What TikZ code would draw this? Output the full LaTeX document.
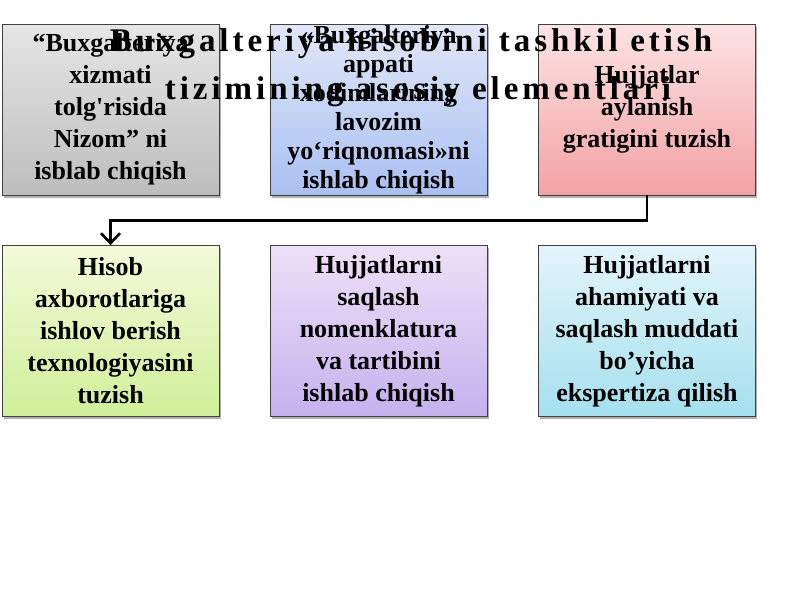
\documentclass[tikz,border=0pt]{standalone}
\usepackage{fontspec}
\setmainfont{Liberation Serif}
\usetikzlibrary{arrows.meta,shadows}

\definecolor{greytop}{HTML}{E6E6E6}
\definecolor{greybot}{HTML}{BDBDBD}
\definecolor{bluetop}{HTML}{E0E7F7}
\definecolor{bluebot}{HTML}{AAC0F2}
\definecolor{pinktop}{HTML}{FDE3E3}
\definecolor{pinkbot}{HTML}{F3A2A4}
\definecolor{greentop}{HTML}{F3FAD9}
\definecolor{greenbot}{HTML}{D0EF9A}
\definecolor{lilactop}{HTML}{EEE0F7}
\definecolor{lilacbot}{HTML}{C5B1EE}
\definecolor{cyantop}{HTML}{E3F4FA}
\definecolor{cyanbot}{HTML}{A4E0EE}

\tikzset{
  elem/.style={draw=black!75, line width=0.8pt, minimum width=217pt, minimum height=171pt,
    inner sep=2pt, align=center, font=\fontsize{26}{32}\selectfont\bfseries,
    drop shadow={shadow xshift=1.5pt, shadow yshift=-2.5pt, opacity=0.3, fill=black}},
  conn/.style={line width=2.6pt, -{Straight Barb[length=10pt,width=19pt]}},
  heading/.style={anchor=base, inner sep=0pt,
    font=\fontsize{33}{40}\selectfont\bfseries\addfontfeature{LetterSpace=12}}
}

\begin{document}
\begin{tikzpicture}[x=1pt,y=-1pt]
    \useasboundingbox (0,0) rectangle (800,600);

    % top row
    \node[elem, top color=greytop, bottom color=greybot] (nizom) at (110.5,109.5)
      {“Buxgalteriya\\ xizmati\\ tolg\textquotesingle risida\\ Nizom” ni\\ isblab chiqish};
    \node[elem, top color=bluetop, bottom color=bluebot, inner sep=0pt,
          font=\fontsize{26}{29}\selectfont\bfseries] (yoriqnoma) at (378.5,109.5)
      {«Buxgalteriya\\ appati\\ xodimlarining\\ lavozim\\ yo‘riqnomasi»ni\\ ishlab chiqish};
    \node[elem, top color=pinktop, bottom color=pinkbot] (aylanish) at (647,109.5)
      {Hujjatlar\\ aylanish\\ gratigini tuzish};

    % bottom row
    \node[elem, top color=greentop, bottom color=greenbot] (texnologiya) at (110.5,331)
      {Hisob\\ axborotlariga\\ ishlov berish\\ texnologiyasini\\ tuzish};
    \node[elem, top color=lilactop, bottom color=lilacbot] (nomenklatura) at (378.5,331)
      {Hujjatlarni\\ saqlash\\ nomenklatura\\ va tartibini\\ ishlab chiqish};
    \node[elem, top color=cyantop, bottom color=cyanbot] (ekspertiza) at (647,331)
      {Hujjatlarni\\ ahamiyati va\\ saqlash muddati\\ bo’yicha\\ ekspertiza qilish};

    \draw[conn] (aylanish.south) -- ++(0,25) -| (texnologiya.north);

    % title on top
    \node[heading] (sarlavha) at (411,51) {Buxgalteriya hisobini tashkil etish};
    \node[heading] (sarlavhaB) at (418,99) {tizimining asosiy elementlari};
\end{tikzpicture}
\end{document}
